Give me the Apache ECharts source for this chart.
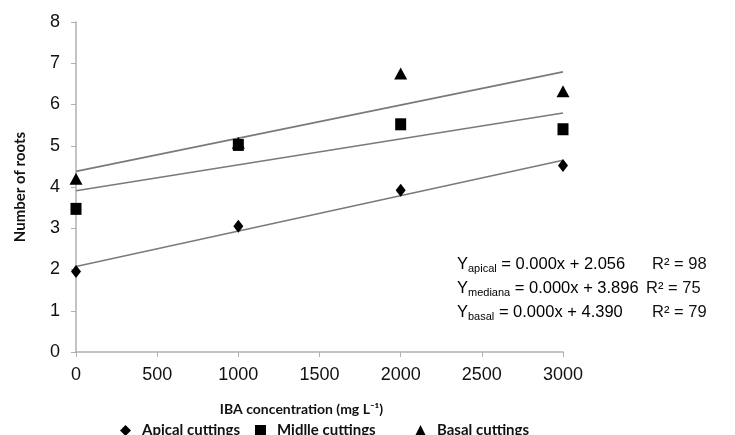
<!DOCTYPE html>
<html lang="en">
<head>
    <meta charset="UTF-8">
    <title>Number of roots</title>
    <script src="https://cdn.jsdelivr.net/npm/echarts@6/dist/echarts.min.js"></script>
    <style>
        html, body { margin: 0; padding: 0; background: #fff; }
        #chart { width: 735px; height: 435px; }
    </style>
</head>
<body>
    <div id="chart"></div>
    <script>
        // IBA doses (mg L-1)
        const doses = [0, 1000, 2000, 3000];

        // mean number of roots per cutting type
        const apical = [1.95, 3.05, 3.92, 4.52];
        const midlle = [3.47, 5.02, 5.52, 5.40];
        const basal = [4.20, 5.07, 6.75, 6.32];

        const seriesNames = ['Apical cuttings', 'Midlle cuttings', 'Basal cuttings'];
        const legendIcons = ['diamond', 'rect', 'triangle'];

        // equation text as printed on the chart
        const eqSubs = ['apical', 'mediana', 'basal'];
        const eqIntercepts = ['2.056', '3.896', '4.390'];
        const eqR2 = ['98', '75', '79'];

        // least squares line through the points, from x=0 to x=3000
        function trend(ys) {
            const n = doses.length;
            const mx = doses.reduce((s, v) => s + v, 0) / n;
            const my = ys.reduce((s, v) => s + v, 0) / n;
            let sxy = 0, sxx = 0;
            doses.forEach((x, i) => {
                sxy += (x - mx) * (ys[i] - my);
                sxx += (x - mx) * (x - mx);
            });
            const b = sxy / sxx;
            const a = my - b * mx;
            return [[0, a], [3000, a + b * 3000]];
        }

        function pts(ys) {
            return doses.map((x, i) => [x, ys[i]]);
        }

        function trendSeries(ys) {
            return {
                type: 'line',
                data: trend(ys),
                showSymbol: false,
                silent: true,
                lineStyle: { color: '#7a7a7a', width: 1.6 },
                z: 1
            };
        }

        const labelFont = {
            fontFamily: 'Lato',
            fontWeight: 'bold',
            fontSize: 14,
            color: '#111'
        };

        // equation block, bottom right of the plot
        const eqTexts = [];
        const r2Left = [652, 646, 652];
        eqSubs.forEach((sub, i) => {
            const top = 256 + i * 24;
            eqTexts.push({
                type: 'text',
                left: 457,
                top: top,
                style: {
                    text: '{a|Y}{s|' + sub + '}{a| = 0.000x + ' + eqIntercepts[i] + '}',
                    rich: {
                        a: { fontFamily: 'Liberation Sans', fontSize: 16.5, color: '#111', lineHeight: 20 },
                        s: { fontFamily: 'Liberation Sans', fontSize: 11, color: '#111', lineHeight: 4, verticalAlign: 'bottom' }
                    }
                }
            });
            eqTexts.push({
                type: 'text',
                left: r2Left[i],
                top: top,
                style: {
                    text: 'R² = ' + eqR2[i],
                    fontFamily: 'Liberation Sans',
                    fontSize: 16.5,
                    fill: '#111'
                }
            });
        });

        // one legend per item so the gaps can follow the picture
        const legendLeft = [115, 250, 410];
        const legends = seriesNames.map((name, i) => ({
            data: [{ name: name, icon: legendIcons[i] }],
            left: legendLeft[i],
            top: 418,
            itemWidth: 11,
            itemHeight: 11,
            itemGap: 6,
            textStyle: Object.assign({}, labelFont, { fontSize: 15, padding: [0, 0, 0, 6] })
        }));

        const option = {
            animation: false,
            grid: { left: 76, right: 172, top: 22, bottom: 83 },
            legend: legends,
            xAxis: {
                type: 'value',
                min: 0,
                max: 3000,
                interval: 500,
                name: 'IBA concentration (mg L⁻¹)',
                nameLocation: 'middle',
                nameGap: 50,
                nameTextStyle: Object.assign({ padding: [0, 36, 0, 0] }, labelFont),
                axisLine: { lineStyle: { color: '#b0b0b0', width: 1.5 } },
                axisTick: { show: true, length: 5, lineStyle: { color: '#b0b0b0' } },
                axisLabel: {
                    fontFamily: 'Liberation Sans',
                    fontSize: 18,
                    color: '#111',
                    margin: 14,
                    formatter: v => String(v)
                },
                splitLine: { show: false }
            },
            yAxis: {
                type: 'value',
                min: 0,
                max: 8,
                interval: 1,
                name: 'Number of roots',
                nameLocation: 'middle',
                nameGap: 48,
                nameTextStyle: Object.assign({}, labelFont, { fontSize: 15 }),
                axisLine: { show: true, lineStyle: { color: '#b0b0b0', width: 1.5 } },
                axisTick: { show: true, length: 5, lineStyle: { color: '#b0b0b0' } },
                axisLabel: {
                    fontFamily: 'Liberation Sans',
                    fontSize: 18,
                    color: '#111',
                    margin: 16
                },
                splitLine: { show: false }
            },
            graphic: eqTexts,
            series: [
                trendSeries(apical),
                trendSeries(midlle),
                trendSeries(basal),
                {
                    name: seriesNames[0],
                    type: 'scatter',
                    symbol: 'diamond',
                    symbolSize: [10, 13],
                    itemStyle: { color: '#000', opacity: 1 },
                    data: pts(apical),
                    z: 3
                },
                {
                    name: seriesNames[2],
                    type: 'scatter',
                    symbol: 'triangle',
                    symbolSize: [13, 12],
                    itemStyle: { color: '#000', opacity: 1 },
                    data: pts(basal),
                    z: 3
                },
                {
                    name: seriesNames[1],
                    type: 'scatter',
                    symbol: 'rect',
                    symbolSize: [11, 12],
                    itemStyle: { color: '#000', opacity: 1 },
                    data: pts(midlle),
                    z: 4
                }
            ]
        };

        const chart = echarts.init(document.getElementById('chart'));
        chart.setOption(option);
    </script>
</body>
</html>
